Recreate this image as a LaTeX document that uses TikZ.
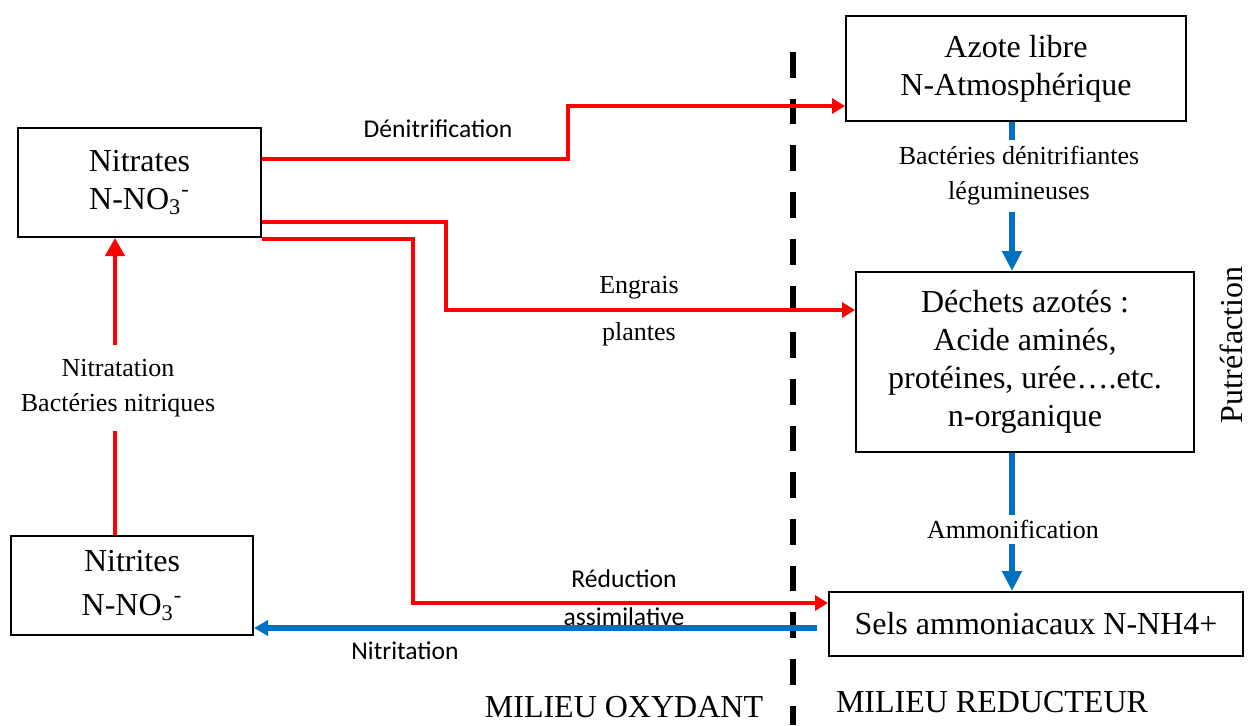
\documentclass[tikz,border=0pt]{standalone}
\usepackage{fontspec}
\setmainfont{Liberation Serif}
\newfontfamily\calibri{Carlito}
\usetikzlibrary{arrows.meta}
\definecolor{flowred}{RGB}{255,0,0}
\definecolor{flowblue}{RGB}{0,112,192}
\begin{document}
\begin{tikzpicture}[x=0.5pt,y=-0.5pt,
    box node/.style={draw,line width=1pt,inner sep=0pt,align=center,font=\fontsize{16}{19}\selectfont},
    small label/.style={inner sep=0pt,align=center,font=\fontsize{13}{17.5}\selectfont},
    calibri label/.style={inner sep=0pt,anchor=base,font=\calibri\fontsize{12.8}{15}\selectfont},
    milieu/.style={inner sep=0pt,font=\fontsize{16}{19}\selectfont},
    red flow/.style={draw=flowred,line width=2.2pt},
    blue flow/.style={draw=flowblue,line width=2.8pt},
    divider/.style={draw=black,line width=3.2pt,dash pattern=on 12.85pt off 10.5pt}]
                \useasboundingbox (0,0) rectangle (1250,725);

                \node[box node,minimum width=121.5pt,minimum height=54.5pt] at (139.5,182.5) (nitrates) {Nitrates\\N-NO\textsubscript{3}\textsuperscript{-}};
                \node[box node,minimum width=121pt,minimum height=49.5pt] at (132,585.5) (nitrites) {Nitrites\\[3pt]N-NO\textsubscript{3}\textsuperscript{-}};
                \node[box node,minimum width=170pt,minimum height=52.5pt] at (1016,68.5) (azote) {Azote libre\\N-Atmosphérique};
                \node[box node,minimum width=169pt,minimum height=90pt] at (1025,362) (dechets) {Déchets azotés :\\Acide aminés,\\protéines, urée….etc.\\n-organique};
                \node[box node,minimum width=207pt,minimum height=32pt] at (1036,624) (sels) {Sels ammoniacaux N-NH4+};

                \node[small label,minimum height=43pt] at (118,388) (nitratation) {Nitratation\\Bactéries nitriques};
                \node[small label,minimum height=36pt] at (1019,176) (bacteries) {Bactéries dénitrifiantes\\légumineuses};
                \node[small label,minimum height=14.5pt] at (1013,529.5) (ammonif) {Ammonification};
                \node[small label,anchor=base] at (639,293) (engrais) {Engrais};
                \node[small label,anchor=base] at (639,340) (plantes) {plantes};
                \node[calibri label] at (438,137) (denitrif) {Dénitrification};
                \node[calibri label] at (624,587) (reduction) {Réduction};
                \node[calibri label] at (624,625) (assimil) {assimilative};
                \node[calibri label] at (405,659) (nitritation) {Nitritation};
                \node[milieu,anchor=base] at (624,717) (oxydant) {MILIEU OXYDANT};
                \node[milieu,anchor=base] at (992,712) (reducteur) {MILIEU REDUCTEUR};
                \node[milieu,rotate=90] at (1231,345) (putref) {Putréfaction};

                \coordinate (xr) at (115,0);
                \coordinate (xb) at (1012,0);
                \coordinate (nstart) at (817,628);
                \coordinate (dtop) at (793,52);
                \coordinate (dbot) at (793,725);
                \coordinate (ydenit) at (0,159);
                \coordinate (ydenitb) at (0,106);
                \coordinate (yengr) at (0,222);
                \coordinate (yengrb) at (0,310);
                \coordinate (yreduc) at (0,239);
                \coordinate (yreducb) at (0,603);

                \draw[divider] (dtop) -- (dbot);

                \draw[red flow,-{Triangle[length=6.5pt,width=7.5pt]}] (nitrates.east |- ydenit) -| (568,106) -- (azote.west |- ydenitb);
                \draw[red flow,-{Triangle[length=6.5pt,width=7.5pt]}] (nitrates.east |- yengr) -| (446,310) -- (dechets.west |- yengrb);
                \draw[red flow,-{Triangle[length=6.5pt,width=7.5pt]}] (nitrates.east |- yreduc) -| (413,603) -- (sels.west |- yreducb);

                \draw[red flow] (nitrites.north -| xr) -- (nitratation.south -| xr);
                \draw[red flow,-{Triangle[length=9pt,width=9.5pt]}] (nitratation.north -| xr) -- (nitrates.south -| xr);

                \draw[blue flow] (azote.south -| xb) -- (bacteries.north -| xb);
                \draw[blue flow,-{Triangle[length=10pt,width=9.5pt]}] (bacteries.south -| xb) -- (dechets.north -| xb);
                \draw[blue flow] (dechets.south -| xb) -- (ammonif.north -| xb);
                \draw[blue flow,-{Triangle[length=10pt,width=9.5pt]}] (ammonif.south -| xb) -- (sels.north -| xb);
                \draw[blue flow,-{Triangle[length=7pt,width=7.5pt]}] (nstart) -- (nitrites.east |- nstart);
            \end{tikzpicture}
\end{document}
